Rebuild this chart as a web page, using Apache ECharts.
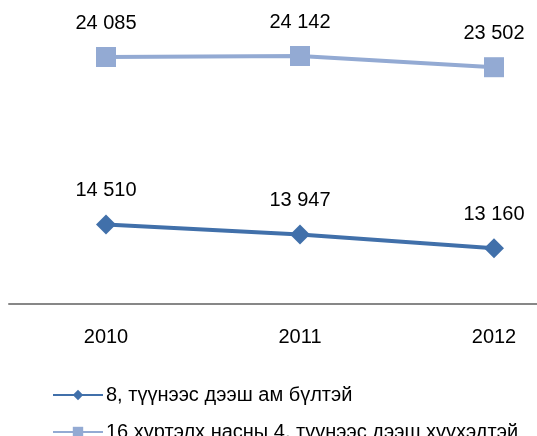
<!DOCTYPE html>
<html>
<head>
<meta charset="utf-8">
<script src="https://cdn.jsdelivr.net/npm/echarts@6/dist/echarts.min.js"></script>
<style>
html,body{margin:0;padding:0;background:#fff;}
#c{width:537px;height:436px;}
</style>
</head>
<body>
<div id="c"></div>
<script>
var categories = ['2010', '2011', '2012'];
var series1Name = '8, түүнээс дээш ам бүлтэй';
var series1Values = [14510, 13947, 13160];
var series2Name = '16 хүртэлх насны 4, түүнээс дээш хүүхэдтэй';
var series2Values = [24085, 24142, 23502];

function fmt(v) {
  return String(v).replace(/\B(?=(\d{3})+(?!\d))/g, ' ');
}

var chart = echarts.init(document.getElementById('c'));
var font = 'Liberation Sans, Arial, sans-serif';
var legendBase = {
  orient: 'horizontal',
  left: 47,
  itemWidth: 50,
  itemHeight: 13,
  textStyle: { color: '#000', fontFamily: font, fontSize: 20, padding: [0, 0, 0, -2] }
};
chart.setOption({
  animation: false,
  backgroundColor: '#ffffff',
  grid: { left: 9, width: 582, top: 23.5, bottom: 132.5, containLabel: false, outerBoundsMode: 'none' },
  xAxis: {
    type: 'category',
    data: categories,
    boundaryGap: true,
    axisLine: { show: true, lineStyle: { color: '#878787', width: 2 } },
    axisTick: { show: false },
    axisLabel: { color: '#000', fontFamily: font, fontSize: 20, margin: 24 },
    splitLine: { show: false }
  },
  yAxis: {
    type: 'value',
    min: 10000,
    max: 26000,
    show: false,
    splitLine: { show: false }
  },
  legend: [
    Object.assign({}, legendBase, { top: 380, data: [series1Name] }),
    Object.assign({}, legendBase, { top: 417, data: [series2Name] })
  ],
  series: [
    {
      name: series1Name,
      type: 'line',
      data: series1Values,
      symbol: 'diamond',
      symbolSize: 20,
      color: '#4170AA',
      lineStyle: { color: '#4170AA', width: 4 },
      itemStyle: { color: '#4170AA' },
      label: {
        show: true, position: 'top', distance: 14,
        color: '#000', fontFamily: font, fontSize: 20,
        formatter: function (p) { return fmt(p.value); }
      }
    },
    {
      name: series2Name,
      type: 'line',
      data: series2Values,
      symbol: 'rect',
      symbolSize: 20,
      color: '#93AAD3',
      lineStyle: { color: '#93AAD3', width: 4 },
      itemStyle: { color: '#93AAD3' },
      label: {
        show: true, position: 'top', distance: 14,
        color: '#000', fontFamily: font, fontSize: 20,
        formatter: function (p) { return fmt(p.value); }
      }
    }
  ]
});
</script>
</body>
</html>
